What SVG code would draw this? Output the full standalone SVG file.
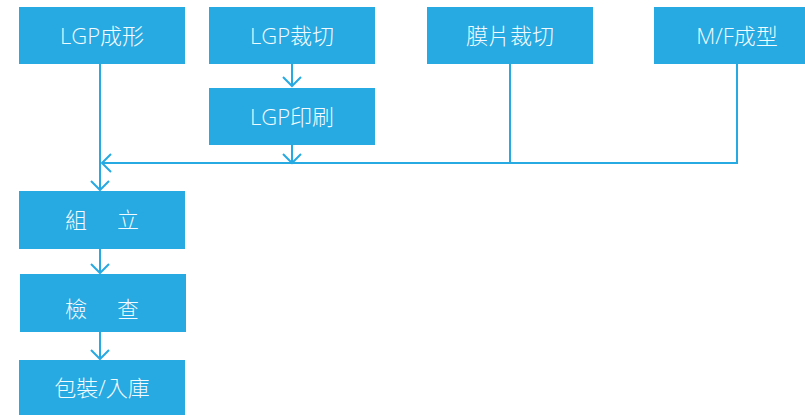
<svg xmlns="http://www.w3.org/2000/svg" width="805" height="415" viewBox="0 0 805 415">
<style>
.box{fill:#27a9e1}
.t{fill:#f2fbff;font-family:"Open Sans","Noto Sans CJK TC","Noto Sans CJK SC",sans-serif;font-weight:300;font-size:22px;text-anchor:middle}
.c{fill:none;stroke:#27a9e1;stroke-width:2}
</style>
<defs>
<marker id="ah" markerUnits="userSpaceOnUse" markerWidth="14" markerHeight="22" viewBox="-1 -1 14 22" refX="10" refY="9" orient="auto">
<path d="M1,0 L10,9 L1,18" fill="none" stroke="#27a9e1" stroke-width="2"/>
</marker>
</defs>
<g id="n1"><rect class="box" x="19" y="7" width="166" height="57"/><text class="t" x="102" y="43.5">LGP成形</text></g>
<g id="n2"><rect class="box" x="209" y="7" width="166" height="57"/><text class="t" x="292" y="43.5">LGP裁切</text></g>
<g id="n3"><rect class="box" x="209" y="88" width="166" height="57"/><text class="t" x="292" y="124.5">LGP印刷</text></g>
<g id="n4"><rect class="box" x="427" y="7" width="166" height="57"/><text class="t" x="510" y="43.5">膜片裁切</text></g>
<g id="n5"><rect class="box" x="654" y="7" width="166" height="57"/><text class="t" x="737" y="43.5">M/F成型</text></g>
<g id="n6"><rect class="box" x="19" y="191" width="166" height="58"/><text class="t" x="104" y="227.5" letter-spacing="4">組　立</text></g>
<g id="n7"><rect class="box" x="20" y="274" width="166" height="58"/><text class="t" x="104" y="317" letter-spacing="4">檢　查</text></g>
<g id="n8"><rect class="box" x="19" y="360" width="166" height="55"/><text class="t" x="102" y="396">包裝/入庫</text></g>
<g id="connectors">
<path class="c" d="M100,64 V190" marker-end="url(#ah)"/>
<path class="c" d="M292,64 V86" marker-end="url(#ah)"/>
<path class="c" d="M292,145 V163" marker-end="url(#ah)"/>
<path class="c" d="M510,64 V163"/>
<path class="c" d="M737,64 V163 H102" marker-end="url(#ah)"/>
<path class="c" d="M100,249 V273" marker-end="url(#ah)"/>
<path class="c" d="M100,332 V359" marker-end="url(#ah)"/>
</g>
</svg>
